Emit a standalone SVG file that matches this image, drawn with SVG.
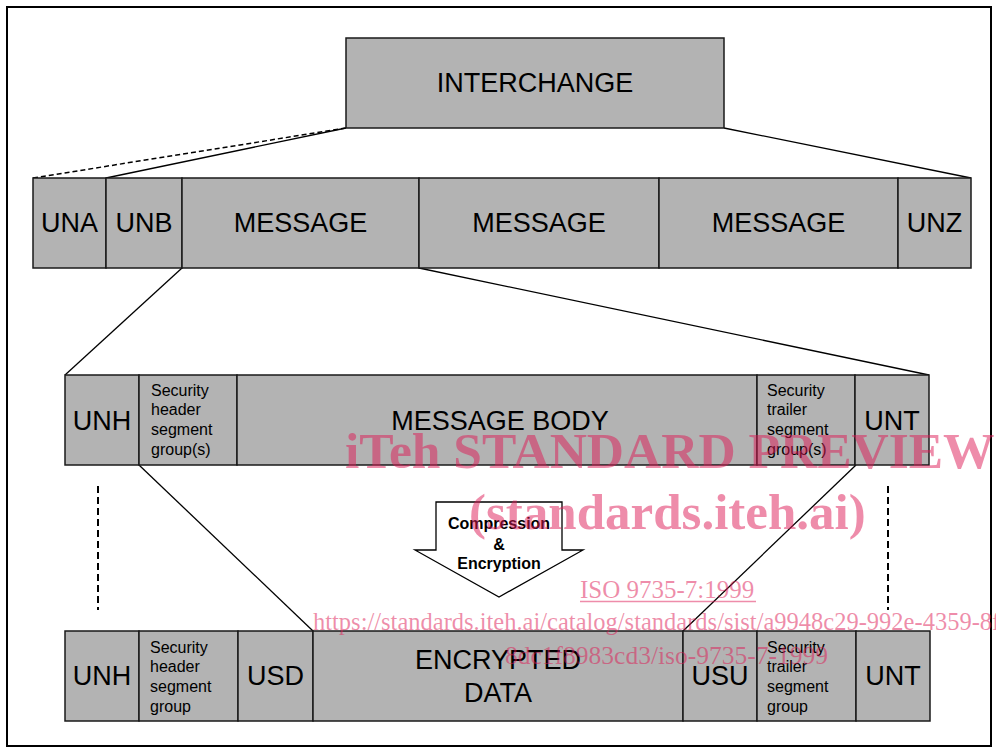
<svg xmlns="http://www.w3.org/2000/svg" width="996" height="753" viewBox="0 0 996 753">
  <style>
    .box { fill: #b3b3b3; stroke: #1a1a1a; stroke-width: 1.5; }
    .big { font-family: "Liberation Sans", Arial, sans-serif; font-size: 27px; fill: #000; text-anchor: middle; }
    .small { font-family: "Liberation Sans", Arial, sans-serif; font-size: 16px; fill: #000; }
    .conn { stroke: #000; stroke-width: 1.3; fill: none; }
    .dash { stroke: #000; stroke-width: 1.5; fill: none; stroke-dasharray: 5 3; }
    .vdash { stroke: #000; stroke-width: 2; fill: none; stroke-dasharray: 7 4; }
    .arrowtxt { font-family: "Liberation Sans", Arial, sans-serif; font-size: 16px; font-weight: bold; fill: #000; text-anchor: middle; }
    .wm { font-family: "Liberation Serif", "Times New Roman", serif; fill: #dd1955; fill-opacity: 0.5; }
  </style>

  <rect x="0" y="0" width="996" height="753" fill="#fff"/>
  <!-- outer frame -->
  <rect x="7" y="7" width="984" height="739" fill="none" stroke="#000" stroke-width="2"/>

  <!-- connectors -->
  <g id="connectors">
    <line class="dash" x1="346" y1="128" x2="33" y2="178"/>
    <line class="conn" x1="346" y1="128" x2="106" y2="178"/>
    <line class="conn" x1="724" y1="128" x2="971" y2="178"/>
    <line class="conn" x1="182" y1="268" x2="65" y2="375"/>
    <line class="conn" x1="419" y1="268" x2="929" y2="375"/>
    <line class="conn" x1="139" y1="465" x2="313" y2="631"/>
    <line class="conn" x1="856" y1="465" x2="683" y2="631"/>
    <line class="vdash" x1="98" y1="486" x2="98" y2="610"/>
    <line class="vdash" x1="888" y1="486" x2="888" y2="610"/>
  </g>

  <!-- top level -->
  <g id="interchange">
    <rect class="box" x="346" y="38" width="378" height="90"/>
    <text class="big" x="535" y="92">INTERCHANGE</text>
  </g>

  <!-- interchange structure -->
  <g id="una">
    <rect class="box" x="33" y="178" width="73" height="90"/>
    <text class="big" x="69.5" y="232">UNA</text>
  </g>
  <g id="unb">
    <rect class="box" x="106" y="178" width="76" height="90"/>
    <text class="big" x="144" y="232">UNB</text>
  </g>
  <g id="message1">
    <rect class="box" x="182" y="178" width="237" height="90"/>
    <text class="big" x="300.5" y="232">MESSAGE</text>
  </g>
  <g id="message2">
    <rect class="box" x="419" y="178" width="240" height="90"/>
    <text class="big" x="539" y="232">MESSAGE</text>
  </g>
  <g id="message3">
    <rect class="box" x="659" y="178" width="239" height="90"/>
    <text class="big" x="778.5" y="232">MESSAGE</text>
  </g>
  <g id="unz">
    <rect class="box" x="898" y="178" width="73" height="90"/>
    <text class="big" x="934.5" y="232">UNZ</text>
  </g>

  <!-- message structure -->
  <g id="msg-unh">
    <rect class="box" x="65" y="375" width="74" height="90"/>
    <text class="big" x="102" y="430">UNH</text>
  </g>
  <g id="msg-sec-header">
    <rect class="box" x="139" y="375" width="98" height="90"/>
    <text class="small" x="151" y="396">Security</text>
    <text class="small" x="151" y="415">header</text>
    <text class="small" x="151" y="435">segment</text>
    <text class="small" x="151" y="455">group(s)</text>
  </g>
  <g id="msg-body">
    <rect class="box" x="237" y="375" width="520" height="90"/>
    <text class="big" x="500" y="430">MESSAGE BODY</text>
  </g>
  <g id="msg-sec-trailer">
    <rect class="box" x="757" y="375" width="98" height="90"/>
    <text class="small" x="767" y="396">Security</text>
    <text class="small" x="767" y="415">trailer</text>
    <text class="small" x="767" y="435">segment</text>
    <text class="small" x="767" y="455">group(s)</text>
  </g>
  <g id="msg-unt">
    <rect class="box" x="855" y="375" width="74" height="90"/>
    <text class="big" x="892" y="430">UNT</text>
  </g>

  <!-- compression & encryption arrow -->
  <g id="process-arrow">
    <polygon points="436,502 562,502 562,550 583,550 499,597 415,550 436,550" fill="#fff" stroke="#000" stroke-width="1.3"/>
    <text class="arrowtxt" x="499" y="529">Compression</text>
    <text class="arrowtxt" x="499" y="550">&amp;</text>
    <text class="arrowtxt" x="499" y="569">Encryption</text>
  </g>

  <!-- secured message structure -->
  <g id="sec-unh">
    <rect class="box" x="65" y="631" width="74" height="90"/>
    <text class="big" x="102" y="685">UNH</text>
  </g>
  <g id="sec-header">
    <rect class="box" x="139" y="631" width="99" height="90"/>
    <text class="small" x="150" y="653">Security</text>
    <text class="small" x="150" y="672">header</text>
    <text class="small" x="150" y="692">segment</text>
    <text class="small" x="150" y="712">group</text>
  </g>
  <g id="usd">
    <rect class="box" x="238" y="631" width="75" height="90"/>
    <text class="big" x="275.5" y="685">USD</text>
  </g>
  <g id="encrypted-data">
    <rect class="box" x="313" y="631" width="370" height="90"/>
    <text class="big" x="498" y="669">ENCRYPTED</text>
    <text class="big" x="498" y="702">DATA</text>
  </g>
  <g id="usu">
    <rect class="box" x="683" y="631" width="74" height="90"/>
    <text class="big" x="720" y="685">USU</text>
  </g>
  <g id="sec-trailer">
    <rect class="box" x="757" y="631" width="99" height="90"/>
    <text class="small" x="767" y="653">Security</text>
    <text class="small" x="767" y="672">trailer</text>
    <text class="small" x="767" y="692">segment</text>
    <text class="small" x="767" y="712">group</text>
  </g>
  <g id="sec-unt">
    <rect class="box" x="856" y="631" width="74" height="90"/>
    <text class="big" x="893" y="685">UNT</text>
  </g>

  <!-- overprinted preview stamp -->
  <g id="stamp">
    <text class="wm" x="345" y="468" font-size="51.5" font-weight="bold">iTeh STANDARD PREVIEW</text>
    <text class="wm" x="469" y="529" font-size="51" font-weight="bold">(standards.iteh.ai)</text>
    <text class="wm" x="580" y="598" font-size="25">ISO 9735-7:1999</text>
    <line x1="580" y1="601.5" x2="756" y2="601.5" stroke="#dd1955" stroke-opacity="0.5" stroke-width="1.5"/>
    <text class="wm" x="313" y="630" font-size="24.5">https://standards.iteh.ai/catalog/standards/sist/a9948c29-992e-4359-8f</text>
    <text class="wm" x="505" y="664" font-size="25.5">8dc1f8983cd3/iso-9735-7-1999</text>
  </g>
</svg>
